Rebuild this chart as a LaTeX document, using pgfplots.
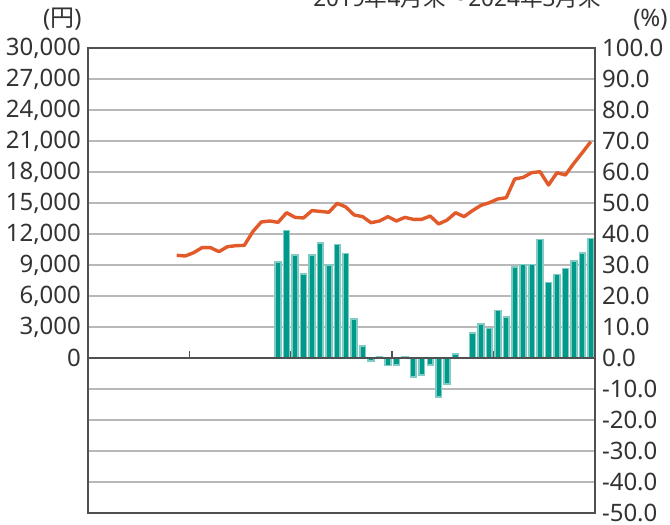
\documentclass[border=0pt]{standalone}
\usepackage{fontspec}
\setmainfont{Noto Sans}
\newfontfamily\cjk{Noto Sans CJK JP}
\usepackage{pgfplots}
\pgfplotsset{compat=1.18}
\definecolor{tealA}{HTML}{009A8B}
\definecolor{tealB}{HTML}{80CCC4}
\definecolor{lineor}{HTML}{E2592A}
\definecolor{gridg}{HTML}{B8B8B8}
\definecolor{axg}{HTML}{505050}
\definecolor{txt}{HTML}{333333}
\begin{document}
\begin{tikzpicture}
\begin{axis}[
  name=ax1, at={(0,0)}, anchor=south west,
  scale only axis, width=253.5pt, height=232.5pt,
  xmin=0, xmax=60, ymin=-50, ymax=100,
  xtick=\empty,
  ytick={-50,-40,...,100},
  ytick pos=right, yticklabel pos=right,
  major tick length=0pt,
  ymajorgrids, grid style={gridg, line width=0.6pt},
  axis line style={axg, line width=0.7pt},
  /pgf/number format/assume math mode=true,
  yticklabel style={/pgf/number format/.cd, fixed, fixed zerofill, precision=1},
  every tick label/.append style={font=\fontsize{12}{14}\selectfont, text=txt},
]
\addplot[ybar, bar width=2.9pt, fill=tealA, draw=tealB, line width=0.8pt] coordinates {
(22.5,31.0) (23.5,41.1) (24.5,33.2) (25.5,27.1) (26.5,33.2) (27.5,37.1) (28.5,30.0) (29.5,36.6)
(30.5,33.7) (31.5,12.6) (32.5,3.9) (33.5,-1.0) (34.5,0.4) (35.5,-2.4) (36.5,-2.3) (37.5,0.3)
(38.5,-6.1) (39.5,-5.4) (40.5,-2.3) (41.5,-12.6) (42.5,-8.3) (43.5,1.3)
(45.5,8.0) (46.5,11.0) (47.5,9.5) (48.5,15.3) (49.5,13.3) (50.5,29.3) (51.5,30.1) (52.5,30.1)
(53.5,38.2) (54.5,24.4) (55.5,27.0) (56.5,28.9) (57.5,31.2) (58.5,33.9) (59.5,38.6)
};
\draw[axg, line width=0.8pt] (axis cs:0,0) -- (axis cs:60,0);
\draw[axg, line width=0.7pt] (axis cs:12,0) -- ([yshift=3.5pt]axis cs:12,0);
\draw[axg, line width=0.7pt] (axis cs:24,0) -- ([yshift=3.5pt]axis cs:24,0);
\draw[axg, line width=0.7pt] (axis cs:36,0) -- ([yshift=3.5pt]axis cs:36,0);
\draw[axg, line width=0.7pt] (axis cs:48,0) -- ([yshift=3.5pt]axis cs:48,0);
\end{axis}
\begin{axis}[
  at={(0,0)}, anchor=south west,
  scale only axis, width=253.5pt, height=232.5pt,
  xmin=0, xmax=60, ymin=-15000, ymax=30000,
  xtick=\empty,
  ytick={0,3000,...,30000},
  ytick pos=left,
  major tick length=0pt,
  axis line style={draw=none},
  scaled y ticks=false,
  /pgf/number format/assume math mode=true,
  yticklabel style={/pgf/number format/.cd, fixed, 1000 sep={,}},
  every tick label/.append style={font=\fontsize{12}{14}\selectfont, text=txt},
]
\addplot[lineor, line width=1.7pt, line join=round] coordinates {
(10.5,9940) (11.5,9870) (12.5,10190) (13.5,10680) (14.5,10680) (15.5,10290) (16.5,10770) (17.5,10870)
(18.5,10900) (19.5,12220) (20.5,13160) (21.5,13260) (22.5,13130) (23.5,14060) (24.5,13610) (25.5,13550)
(26.5,14260) (27.5,14190) (28.5,14100) (29.5,14970) (30.5,14620) (31.5,13840) (32.5,13680) (33.5,13090)
(34.5,13260) (35.5,13680) (36.5,13260) (37.5,13610) (38.5,13420) (39.5,13420) (40.5,13740) (41.5,12970)
(42.5,13350) (43.5,14060) (44.5,13680) (45.5,14260) (46.5,14770) (47.5,15030) (48.5,15390) (49.5,15510)
(50.5,17320) (51.5,17480) (52.5,17930) (53.5,18030) (54.5,16740) (55.5,17930) (56.5,17710) (57.5,18840)
(58.5,19870) (59.5,20930)
};
\end{axis}
\node[anchor=base east, text=txt, font=\fontsize{12}{14}\selectfont, inner sep=0pt] at (-3pt,243pt) {({\cjk 円})};
\node[anchor=base east, text=txt, font=\fontsize{12}{14}\selectfont, inner sep=0pt] at (290pt,243pt) {(\%)};
\node[anchor=base, text=txt, font=\fontsize{11.3}{13}\selectfont, inner sep=0pt] at (184.5pt,253pt) {2019{\cjk 年}4{\cjk 月末～}2024{\cjk 年}3{\cjk 月末}};
\pgfresetboundingbox
\path (-44pt,-6pt) rectangle (291pt,256.5pt);
\end{tikzpicture}
\end{document}
